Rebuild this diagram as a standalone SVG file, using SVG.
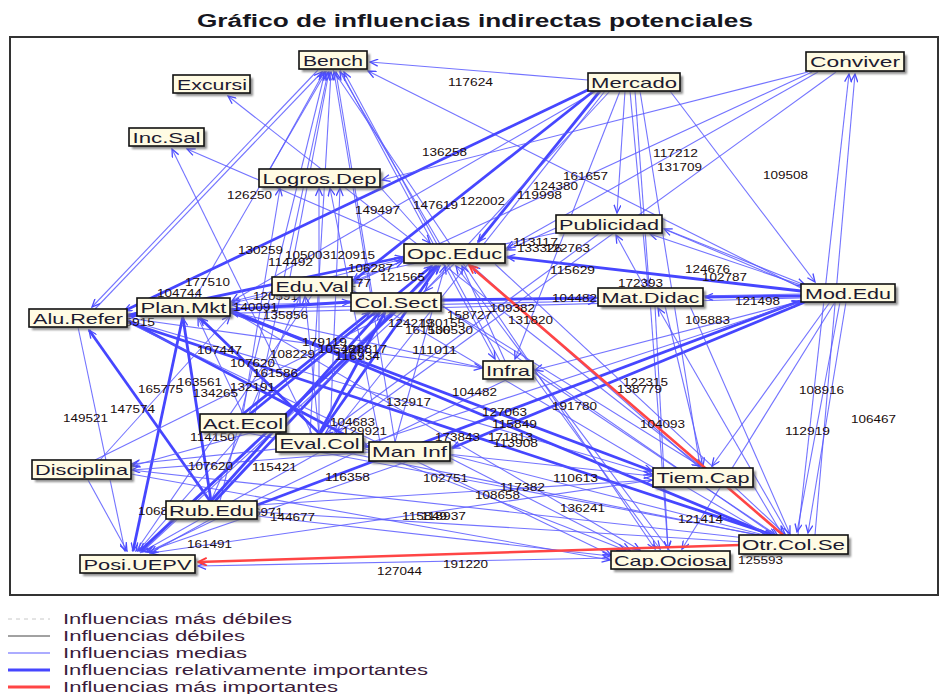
<svg xmlns="http://www.w3.org/2000/svg" width="944" height="694" viewBox="0 0 944 694">
<defs>
<style>
.m{stroke:#5a5aff;stroke-width:1.1;stroke-opacity:.85;marker-end:url(#ab)}
.t{stroke:#4646ff;stroke-width:2.8;marker-end:url(#ab)}
.r{stroke:#ff4545;stroke-width:2.6;marker-end:url(#ar)}
.lb{font-family:"Liberation Sans",Arial,sans-serif;font-size:11px;fill:#1a0c0c}
.box{fill:#fffbe3;stroke:#111;stroke-width:1.6}
.sh{fill:#6a6a6a;opacity:.75;filter:url(#bl)}
.nt{font-family:"Liberation Sans",Arial,sans-serif;font-size:15px;fill:#1c1a30}
.lg{font-family:"Liberation Sans",Arial,sans-serif;font-size:14px;fill:#3a1c3a}
</style>
<filter id="bl" x="-10%" y="-30%" width="120%" height="160%"><feGaussianBlur stdDeviation="1.2"/></filter>
<marker id="ab" viewBox="0 0 10 8" refX="9" refY="4" markerWidth="10" markerHeight="8" markerUnits="userSpaceOnUse" orient="auto"><path d="M1,0.5 L9,4 L1,7.5" fill="none" stroke="#4b4bff" stroke-width="1.3"/></marker>
<marker id="ar" viewBox="0 0 10 8" refX="9" refY="4" markerWidth="11" markerHeight="9" markerUnits="userSpaceOnUse" orient="auto"><path d="M1,0.5 L9,4 L1,7.5" fill="none" stroke="#ff3a3a" stroke-width="1.6"/></marker>
</defs>
<rect x="0" y="0" width="944" height="694" fill="#fff"/>
<text x="475" y="27" text-anchor="middle" textLength="556" lengthAdjust="spacingAndGlyphs" font-family="Liberation Sans,Arial,sans-serif" font-size="18" font-weight="bold" fill="#161620">Gráfico de influencias indirectas potenciales</text>
<rect x="10" y="37" width="928" height="558" fill="none" stroke="#333" stroke-width="2"/>

<g id="connectors">
<line class="m" x1="95" y1="309" x2="322" y2="72"/>
<line class="m" x1="195" y1="298" x2="326" y2="72"/>
<line class="m" x1="290" y1="277" x2="329" y2="72"/>
<line class="m" x1="372" y1="293" x2="336" y2="72"/>
<line class="m" x1="310" y1="434" x2="331" y2="72"/>
<line class="m" x1="255" y1="414" x2="328" y2="72"/>
<line class="m" x1="220" y1="501" x2="325" y2="72"/>
<line class="m" x1="440" y1="244" x2="340" y2="72"/>
<line class="m" x1="500" y1="361" x2="344" y2="72"/>
<line class="m" x1="801" y1="288" x2="368" y2="71"/>
<line class="m" x1="588" y1="80" x2="370" y2="62"/>
<line class="m" x1="395" y1="442" x2="334" y2="72"/>
<line class="m" x1="270" y1="169" x2="324" y2="72"/>
<line class="m" x1="318" y1="70" x2="92" y2="307"/>
<line class="m" x1="333" y1="70" x2="655" y2="549"/>
<line class="m" x1="340" y1="70" x2="495" y2="359"/>

<line class="t" x1="600" y1="91" x2="478" y2="242"/>
<line class="t" x1="592" y1="88" x2="124" y2="311"/>
<line class="m" x1="598" y1="90" x2="232" y2="301"/>
<line class="t" x1="595" y1="90" x2="353" y2="281"/>
<line class="m" x1="625" y1="91" x2="617" y2="213"/>
<line class="m" x1="630" y1="91" x2="648" y2="286"/>
<line class="m" x1="620" y1="91" x2="515" y2="359"/>
<line class="m" x1="640" y1="91" x2="700" y2="466"/>
<line class="m" x1="635" y1="91" x2="668" y2="549"/>
<line class="m" x1="610" y1="91" x2="425" y2="291"/>
<line class="m" x1="605" y1="91" x2="335" y2="432"/>
<line class="m" x1="670" y1="91" x2="815" y2="282"/>

<line class="m" x1="808" y1="72" x2="382" y2="180"/>
<line class="m" x1="812" y1="72" x2="354" y2="283"/>
<line class="m" x1="818" y1="72" x2="507" y2="248"/>
<line class="m" x1="836" y1="72" x2="335" y2="435"/>
<line class="m" x1="798" y1="535" x2="849" y2="74"/>
<line class="m" x1="815" y1="535" x2="855" y2="74"/>

<line class="t" x1="801" y1="296" x2="705" y2="297"/>
<line class="t" x1="801" y1="291" x2="507" y2="257"/>
<line class="m" x1="801" y1="287" x2="664" y2="229"/>
<line class="m" x1="801" y1="285" x2="650" y2="234"/>
<line class="m" x1="801" y1="294" x2="232" y2="305"/>
<line class="m" x1="801" y1="298" x2="129" y2="316"/>
<line class="t" x1="805" y1="302" x2="452" y2="448"/>
<line class="m" x1="805" y1="300" x2="535" y2="370"/>
<line class="m" x1="830" y1="302" x2="712" y2="466"/>
<line class="m" x1="835" y1="302" x2="682" y2="549"/>
<line class="m" x1="840" y1="302" x2="797" y2="532"/>
<line class="m" x1="846" y1="302" x2="808" y2="533"/>

<line class="t" x1="441" y1="300" x2="596" y2="298"/>
<line class="m" x1="230" y1="309" x2="596" y2="301"/>
<line class="m" x1="655" y1="306" x2="668" y2="549"/>
<line class="m" x1="790" y1="537" x2="658" y2="308"/>
<line class="m" x1="665" y1="306" x2="703" y2="466"/>
<line class="m" x1="645" y1="288" x2="616" y2="235"/>

<line class="m" x1="556" y1="228" x2="507" y2="250"/>
<line class="m" x1="560" y1="232" x2="232" y2="303"/>
<line class="m" x1="600" y1="233" x2="325" y2="434"/>

<line class="t" x1="320" y1="434" x2="438" y2="266"/>
<line class="t" x1="250" y1="414" x2="432" y2="266"/>
<line class="t" x1="215" y1="501" x2="436" y2="266"/>
<line class="m" x1="140" y1="553" x2="440" y2="266"/>
<line class="m" x1="395" y1="442" x2="445" y2="266"/>
<line class="m" x1="505" y1="361" x2="462" y2="266"/>
<line class="t" x1="128" y1="315" x2="403" y2="257"/>
<line class="m" x1="230" y1="302" x2="403" y2="259"/>
<line class="m" x1="352" y1="282" x2="403" y2="261"/>
<line class="m" x1="380" y1="187" x2="430" y2="243"/>
<line class="m" x1="700" y1="468" x2="472" y2="266"/>
<line class="m" x1="670" y1="551" x2="456" y2="266"/>

<line class="t" x1="210" y1="501" x2="89" y2="330"/>
<line class="t" x1="127" y1="322" x2="776" y2="536"/>
<line class="m" x1="127" y1="320" x2="652" y2="474"/>
<line class="m" x1="127" y1="318" x2="482" y2="368"/>
<line class="t" x1="127" y1="320" x2="368" y2="447"/>
<line class="m" x1="127" y1="322" x2="611" y2="555"/>
<line class="t" x1="127" y1="316" x2="350" y2="302"/>
<line class="m" x1="312" y1="434" x2="172" y2="149"/>
<line class="m" x1="430" y1="254" x2="187" y2="149"/>
<line class="m" x1="703" y1="468" x2="228" y2="96"/>

<line class="m" x1="88" y1="480" x2="127" y2="551"/>
<line class="t" x1="183" y1="316" x2="133" y2="551"/>
<line class="m" x1="243" y1="432" x2="138" y2="551"/>
<line class="m" x1="320" y1="452" x2="142" y2="552"/>
<line class="m" x1="409" y1="461" x2="146" y2="552"/>
<line class="t" x1="396" y1="311" x2="140" y2="551"/>
<line class="m" x1="312" y1="295" x2="136" y2="551"/>
<line class="m" x1="454" y1="264" x2="143" y2="551"/>
<line class="m" x1="508" y1="379" x2="148" y2="552"/>
<line class="m" x1="653" y1="480" x2="151" y2="553"/>
<line class="m" x1="611" y1="558" x2="198" y2="566"/>
<line class="m" x1="211" y1="519" x2="150" y2="553"/>
<line class="m" x1="78" y1="327" x2="125" y2="551"/>

<line class="m" x1="319" y1="452" x2="770" y2="537"/>
<line class="m" x1="450" y1="455" x2="772" y2="537"/>
<line class="m" x1="243" y1="432" x2="768" y2="537"/>
<line class="t" x1="230" y1="310" x2="773" y2="536"/>
<line class="m" x1="441" y1="305" x2="776" y2="536"/>
<line class="m" x1="533" y1="372" x2="778" y2="536"/>
<line class="m" x1="352" y1="290" x2="771" y2="537"/>
<line class="m" x1="131" y1="470" x2="764" y2="540"/>
<line class="m" x1="257" y1="512" x2="760" y2="543"/>
<line class="m" x1="753" y1="485" x2="782" y2="534"/>
<line class="m" x1="495" y1="264" x2="785" y2="534"/>
<line class="m" x1="690" y1="306" x2="790" y2="534"/>

<line class="t" x1="230" y1="312" x2="652" y2="471"/>
<line class="m" x1="363" y1="445" x2="652" y2="476"/>
<line class="m" x1="441" y1="305" x2="700" y2="466"/>
<line class="m" x1="257" y1="505" x2="652" y2="480"/>

<line class="m" x1="230" y1="310" x2="640" y2="550"/>
<line class="m" x1="363" y1="448" x2="625" y2="550"/>
<line class="m" x1="450" y1="458" x2="630" y2="550"/>
<line class="m" x1="257" y1="516" x2="610" y2="556"/>
<line class="m" x1="533" y1="375" x2="660" y2="549"/>
<line class="m" x1="131" y1="474" x2="610" y2="560"/>

<line class="m" x1="363" y1="440" x2="132" y2="464"/>
<line class="m" x1="286" y1="423" x2="132" y2="466"/>
<line class="m" x1="369" y1="452" x2="132" y2="470"/>
<line class="m" x1="95" y1="460" x2="396" y2="311"/>
<line class="m" x1="100" y1="460" x2="230" y2="316"/>

<line class="t" x1="211" y1="501" x2="183" y2="318"/>
<line class="m" x1="243" y1="414" x2="198" y2="318"/>
<line class="t" x1="320" y1="434" x2="200" y2="318"/>

<line class="m" x1="211" y1="501" x2="300" y2="296"/>
<line class="t" x1="243" y1="414" x2="370" y2="312"/>
<line class="t" x1="319" y1="434" x2="385" y2="312"/>
<line class="t" x1="211" y1="501" x2="380" y2="312"/>
<line class="m" x1="319" y1="434" x2="305" y2="296"/>
<line class="m" x1="319" y1="434" x2="319" y2="188"/>
<line class="m" x1="330" y1="434" x2="340" y2="188"/>
<line class="m" x1="243" y1="414" x2="280" y2="188"/>
<line class="m" x1="380" y1="442" x2="330" y2="188"/>
<line class="m" x1="483" y1="368" x2="231" y2="312"/>
<line class="t" x1="257" y1="505" x2="800" y2="301"/>
<line class="m" x1="363" y1="445" x2="800" y2="302"/>
<line class="m" x1="662" y1="228" x2="805" y2="285"/>

<line class="r" x1="783" y1="535" x2="469" y2="265"/>
<line class="r" x1="740" y1="545" x2="198" y2="562"/>
</g>

<g id="labels" class="lb">
<text x="448" y="86" textLength="45" lengthAdjust="spacingAndGlyphs">117624</text>
<text x="422" y="156" textLength="45" lengthAdjust="spacingAndGlyphs">136258</text>
<text x="227" y="199" textLength="45" lengthAdjust="spacingAndGlyphs">126250</text>
<text x="563" y="180" textLength="45" lengthAdjust="spacingAndGlyphs">161657</text>
<text x="533" y="190" textLength="45" lengthAdjust="spacingAndGlyphs">124380</text>
<text x="517" y="199" textLength="45" lengthAdjust="spacingAndGlyphs">119998</text>
<text x="460" y="205" textLength="45" lengthAdjust="spacingAndGlyphs">122002</text>
<text x="413" y="209" textLength="45" lengthAdjust="spacingAndGlyphs">147619</text>
<text x="355" y="214" textLength="45" lengthAdjust="spacingAndGlyphs">149497</text>
<text x="653" y="157" textLength="45" lengthAdjust="spacingAndGlyphs">117212</text>
<text x="657" y="171" textLength="45" lengthAdjust="spacingAndGlyphs">131709</text>
<text x="763" y="179" textLength="45" lengthAdjust="spacingAndGlyphs">109508</text>
<text x="238" y="254" textLength="45" lengthAdjust="spacingAndGlyphs">130259</text>
<text x="285" y="259" textLength="45" lengthAdjust="spacingAndGlyphs">105003</text>
<text x="330" y="259" textLength="45" lengthAdjust="spacingAndGlyphs">120915</text>
<text x="268" y="266" textLength="45" lengthAdjust="spacingAndGlyphs">114492</text>
<text x="348" y="272" textLength="45" lengthAdjust="spacingAndGlyphs">106287</text>
<text x="380" y="281" textLength="45" lengthAdjust="spacingAndGlyphs">121565</text>
<text x="326" y="287" textLength="45" lengthAdjust="spacingAndGlyphs">104177</text>
<text x="513" y="246" textLength="45" lengthAdjust="spacingAndGlyphs">113117</text>
<text x="517" y="252" textLength="45" lengthAdjust="spacingAndGlyphs">133326</text>
<text x="545" y="252" textLength="45" lengthAdjust="spacingAndGlyphs">122763</text>
<text x="550" y="274" textLength="45" lengthAdjust="spacingAndGlyphs">115629</text>
<text x="618" y="287" textLength="45" lengthAdjust="spacingAndGlyphs">172393</text>
<text x="685" y="273" textLength="45" lengthAdjust="spacingAndGlyphs">124676</text>
<text x="702" y="281" textLength="45" lengthAdjust="spacingAndGlyphs">102787</text>
<text x="735" y="305" textLength="45" lengthAdjust="spacingAndGlyphs">121498</text>
<text x="685" y="324" textLength="45" lengthAdjust="spacingAndGlyphs">105883</text>
<text x="552" y="302" textLength="45" lengthAdjust="spacingAndGlyphs">104482</text>
<text x="185" y="286" textLength="45" lengthAdjust="spacingAndGlyphs">177510</text>
<text x="157" y="297" textLength="45" lengthAdjust="spacingAndGlyphs">104744</text>
<text x="253" y="300" textLength="45" lengthAdjust="spacingAndGlyphs">120591</text>
<text x="233" y="311" textLength="45" lengthAdjust="spacingAndGlyphs">140091</text>
<text x="263" y="319" textLength="45" lengthAdjust="spacingAndGlyphs">135856</text>
<text x="110" y="326" textLength="45" lengthAdjust="spacingAndGlyphs">115915</text>
<text x="197" y="354" textLength="45" lengthAdjust="spacingAndGlyphs">107447</text>
<text x="270" y="358" textLength="45" lengthAdjust="spacingAndGlyphs">108229</text>
<text x="230" y="367" textLength="45" lengthAdjust="spacingAndGlyphs">107620</text>
<text x="253" y="377" textLength="45" lengthAdjust="spacingAndGlyphs">161586</text>
<text x="177" y="386" textLength="45" lengthAdjust="spacingAndGlyphs">163561</text>
<text x="138" y="393" textLength="45" lengthAdjust="spacingAndGlyphs">165775</text>
<text x="230" y="391" textLength="45" lengthAdjust="spacingAndGlyphs">132191</text>
<text x="193" y="397" textLength="45" lengthAdjust="spacingAndGlyphs">134265</text>
<text x="110" y="413" textLength="45" lengthAdjust="spacingAndGlyphs">147574</text>
<text x="63" y="422" textLength="45" lengthAdjust="spacingAndGlyphs">149521</text>
<text x="190" y="441" textLength="45" lengthAdjust="spacingAndGlyphs">114150</text>
<text x="188" y="470" textLength="45" lengthAdjust="spacingAndGlyphs">107620</text>
<text x="252" y="471" textLength="45" lengthAdjust="spacingAndGlyphs">115421</text>
<text x="138" y="515" textLength="45" lengthAdjust="spacingAndGlyphs">106844</text>
<text x="238" y="516" textLength="45" lengthAdjust="spacingAndGlyphs">126971</text>
<text x="270" y="521" textLength="45" lengthAdjust="spacingAndGlyphs">144677</text>
<text x="187" y="548" textLength="45" lengthAdjust="spacingAndGlyphs">161491</text>
<text x="325" y="481" textLength="45" lengthAdjust="spacingAndGlyphs">116358</text>
<text x="423" y="482" textLength="45" lengthAdjust="spacingAndGlyphs">102751</text>
<text x="500" y="491" textLength="45" lengthAdjust="spacingAndGlyphs">117382</text>
<text x="475" y="499" textLength="45" lengthAdjust="spacingAndGlyphs">108658</text>
<text x="553" y="482" textLength="45" lengthAdjust="spacingAndGlyphs">110613</text>
<text x="560" y="512" textLength="45" lengthAdjust="spacingAndGlyphs">136241</text>
<text x="402" y="520" textLength="45" lengthAdjust="spacingAndGlyphs">115849</text>
<text x="421" y="520" textLength="45" lengthAdjust="spacingAndGlyphs">118937</text>
<text x="377" y="575" textLength="45" lengthAdjust="spacingAndGlyphs">127044</text>
<text x="443" y="568" textLength="45" lengthAdjust="spacingAndGlyphs">191220</text>
<text x="386" y="406" textLength="45" lengthAdjust="spacingAndGlyphs">132917</text>
<text x="452" y="396" textLength="45" lengthAdjust="spacingAndGlyphs">104482</text>
<text x="482" y="416" textLength="45" lengthAdjust="spacingAndGlyphs">127063</text>
<text x="552" y="410" textLength="45" lengthAdjust="spacingAndGlyphs">191780</text>
<text x="492" y="428" textLength="45" lengthAdjust="spacingAndGlyphs">115849</text>
<text x="435" y="441" textLength="45" lengthAdjust="spacingAndGlyphs">173843</text>
<text x="488" y="441" textLength="45" lengthAdjust="spacingAndGlyphs">171813</text>
<text x="493" y="447" textLength="45" lengthAdjust="spacingAndGlyphs">113908</text>
<text x="330" y="426" textLength="45" lengthAdjust="spacingAndGlyphs">104683</text>
<text x="342" y="435" textLength="45" lengthAdjust="spacingAndGlyphs">129921</text>
<text x="412" y="354" textLength="45" lengthAdjust="spacingAndGlyphs">111011</text>
<text x="302" y="346" textLength="45" lengthAdjust="spacingAndGlyphs">179119</text>
<text x="318" y="353" textLength="45" lengthAdjust="spacingAndGlyphs">105481</text>
<text x="342" y="353" textLength="45" lengthAdjust="spacingAndGlyphs">128817</text>
<text x="335" y="360" textLength="45" lengthAdjust="spacingAndGlyphs">116934</text>
<text x="447" y="319" textLength="45" lengthAdjust="spacingAndGlyphs">158727</text>
<text x="388" y="327" textLength="45" lengthAdjust="spacingAndGlyphs">124219</text>
<text x="420" y="327" textLength="45" lengthAdjust="spacingAndGlyphs">130155</text>
<text x="405" y="334" textLength="45" lengthAdjust="spacingAndGlyphs">161536</text>
<text x="428" y="334" textLength="45" lengthAdjust="spacingAndGlyphs">100530</text>
<text x="490" y="312" textLength="45" lengthAdjust="spacingAndGlyphs">109382</text>
<text x="508" y="324" textLength="45" lengthAdjust="spacingAndGlyphs">131820</text>
<text x="623" y="386" textLength="45" lengthAdjust="spacingAndGlyphs">122315</text>
<text x="617" y="393" textLength="45" lengthAdjust="spacingAndGlyphs">138779</text>
<text x="640" y="428" textLength="45" lengthAdjust="spacingAndGlyphs">104093</text>
<text x="799" y="394" textLength="45" lengthAdjust="spacingAndGlyphs">108916</text>
<text x="851" y="423" textLength="45" lengthAdjust="spacingAndGlyphs">106467</text>
<text x="785" y="435" textLength="45" lengthAdjust="spacingAndGlyphs">112919</text>
<text x="678" y="523" textLength="45" lengthAdjust="spacingAndGlyphs">121414</text>
<text x="738" y="564" textLength="45" lengthAdjust="spacingAndGlyphs">125593</text>
</g>

<g id="n-bench"><rect class="sh" x="302" y="54" width="68" height="18"/><rect class="box" x="299" y="51" width="68" height="18"/><text class="nt" x="333" y="65.5" text-anchor="middle" textLength="60" lengthAdjust="spacingAndGlyphs">Bench</text></g>
<g id="n-excursi"><rect class="sh" x="176" y="78" width="77" height="18"/><rect class="box" x="173" y="75" width="77" height="18"/><text class="nt" x="212" y="89.5" text-anchor="middle" textLength="70" lengthAdjust="spacingAndGlyphs">Excursi</text></g>
<g id="n-incsal"><rect class="sh" x="132" y="131" width="75" height="18"/><rect class="box" x="129" y="128" width="75" height="18"/><text class="nt" x="166.5" y="142.5" text-anchor="middle" textLength="68" lengthAdjust="spacingAndGlyphs">Inc.Sal</text></g>
<g id="n-logros"><rect class="sh" x="262" y="172" width="121" height="18"/><rect class="box" x="259" y="169" width="121" height="18"/><text class="nt" x="319.5" y="183.5" text-anchor="middle" textLength="114" lengthAdjust="spacingAndGlyphs">Logros.Dep</text></g>
<g id="n-mercado"><rect class="sh" x="591" y="76" width="92" height="18"/><rect class="box" x="588" y="73" width="92" height="18"/><text class="nt" x="634" y="87.5" text-anchor="middle" textLength="86" lengthAdjust="spacingAndGlyphs">Mercado</text></g>
<g id="n-conviver"><rect class="sh" x="809" y="55" width="98" height="19"/><rect class="box" x="806" y="52" width="98" height="19"/><text class="nt" x="855" y="67" text-anchor="middle" textLength="90" lengthAdjust="spacingAndGlyphs">Conviver</text></g>
<g id="n-publicidad"><rect class="sh" x="559" y="218" width="106" height="18"/><rect class="box" x="556" y="215" width="106" height="18"/><text class="nt" x="609" y="229.5" text-anchor="middle" textLength="100" lengthAdjust="spacingAndGlyphs">Publicidad</text></g>
<g id="n-opceduc"><rect class="sh" x="407" y="247" width="101" height="19"/><rect class="box" x="404" y="244" width="101" height="19"/><text class="nt" x="454.5" y="259" text-anchor="middle" textLength="95" lengthAdjust="spacingAndGlyphs">Opc.Educ</text></g>
<g id="n-eduval"><rect class="sh" x="275" y="280" width="80" height="18"/><rect class="box" x="272" y="277" width="80" height="18"/><text class="nt" x="312" y="291.5" text-anchor="middle" textLength="73" lengthAdjust="spacingAndGlyphs">Edu.Val</text></g>
<g id="n-colsect"><rect class="sh" x="354" y="296" width="90" height="18"/><rect class="box" x="351" y="293" width="90" height="18"/><text class="nt" x="396" y="307.5" text-anchor="middle" textLength="83" lengthAdjust="spacingAndGlyphs">Col.Sect</text></g>
<g id="n-matdidac"><rect class="sh" x="601" y="291" width="105" height="18"/><rect class="box" x="598" y="288" width="105" height="18"/><text class="nt" x="650.5" y="302.5" text-anchor="middle" textLength="98" lengthAdjust="spacingAndGlyphs">Mat.Didac</text></g>
<g id="n-modedu"><rect class="sh" x="804" y="287" width="94" height="18"/><rect class="box" x="801" y="284" width="94" height="18"/><text class="nt" x="848" y="298.5" text-anchor="middle" textLength="86" lengthAdjust="spacingAndGlyphs">Mod.Edu</text></g>
<g id="n-alurefer"><rect class="sh" x="32" y="312" width="98" height="18"/><rect class="box" x="29" y="309" width="98" height="18"/><text class="nt" x="78" y="323.5" text-anchor="middle" textLength="90" lengthAdjust="spacingAndGlyphs">Alu.Refer</text></g>
<g id="n-planmkt"><rect class="sh" x="140" y="301" width="93" height="18"/><rect class="box" x="137" y="298" width="93" height="18"/><text class="nt" x="183.5" y="312.5" text-anchor="middle" textLength="86" lengthAdjust="spacingAndGlyphs">Plan.Mkt</text></g>
<g id="n-infra"><rect class="sh" x="486" y="364" width="50" height="18"/><rect class="box" x="483" y="361" width="50" height="18"/><text class="nt" x="508" y="375.5" text-anchor="middle" textLength="44" lengthAdjust="spacingAndGlyphs">Infra</text></g>
<g id="n-actecol"><rect class="sh" x="203" y="417" width="86" height="18"/><rect class="box" x="200" y="414" width="86" height="18"/><text class="nt" x="243" y="428.5" text-anchor="middle" textLength="80" lengthAdjust="spacingAndGlyphs">Act.Ecol</text></g>
<g id="n-evalcol"><rect class="sh" x="279" y="437" width="87" height="18"/><rect class="box" x="276" y="434" width="87" height="18"/><text class="nt" x="319.5" y="448.5" text-anchor="middle" textLength="80" lengthAdjust="spacingAndGlyphs">Eval.Col</text></g>
<g id="n-maninf"><rect class="sh" x="372" y="445" width="81" height="19"/><rect class="box" x="369" y="442" width="81" height="19"/><text class="nt" x="409.5" y="457" text-anchor="middle" textLength="75" lengthAdjust="spacingAndGlyphs">Man Inf</text></g>
<g id="n-disciplina"><rect class="sh" x="35" y="463" width="99" height="19"/><rect class="box" x="32" y="460" width="99" height="19"/><text class="nt" x="81.5" y="475" text-anchor="middle" textLength="93" lengthAdjust="spacingAndGlyphs">Disciplina</text></g>
<g id="n-tiemcap"><rect class="sh" x="656" y="471" width="100" height="19"/><rect class="box" x="653" y="468" width="100" height="19"/><text class="nt" x="703" y="483" text-anchor="middle" textLength="93" lengthAdjust="spacingAndGlyphs">Tiem.Cap</text></g>
<g id="n-rubedu"><rect class="sh" x="169" y="504" width="91" height="18"/><rect class="box" x="166" y="501" width="91" height="18"/><text class="nt" x="211.5" y="515.5" text-anchor="middle" textLength="85" lengthAdjust="spacingAndGlyphs">Rub.Edu</text></g>
<g id="n-otrcolse"><rect class="sh" x="742" y="538" width="109" height="19"/><rect class="box" x="739" y="535" width="109" height="19"/><text class="nt" x="793.5" y="550" text-anchor="middle" textLength="103" lengthAdjust="spacingAndGlyphs">Otr.Col.Se</text></g>
<g id="n-capociosa"><rect class="sh" x="614" y="554" width="119" height="18"/><rect class="box" x="611" y="551" width="119" height="18"/><text class="nt" x="670.5" y="565.5" text-anchor="middle" textLength="113" lengthAdjust="spacingAndGlyphs">Cap.Ociosa</text></g>
<g id="n-posiuepv"><rect class="sh" x="83" y="558" width="115" height="18"/><rect class="box" x="80" y="555" width="115" height="18"/><text class="nt" x="137.5" y="569.5" text-anchor="middle" textLength="108" lengthAdjust="spacingAndGlyphs">Posi.UEPV</text></g>

<g id="legend">
<line x1="8" y1="619" x2="50" y2="619" stroke="#c8c8c8" stroke-width="1" stroke-dasharray="4,4"/>
<line x1="8" y1="636" x2="50" y2="636" stroke="#444" stroke-width="1"/>
<line x1="8" y1="653" x2="50" y2="653" stroke="#5a5aff" stroke-width="1.2"/>
<line x1="8" y1="670" x2="50" y2="670" stroke="#4646ff" stroke-width="3"/>
<line x1="8" y1="687" x2="50" y2="687" stroke="#ff4545" stroke-width="3"/>
<text class="lg" x="63" y="624" textLength="229" lengthAdjust="spacingAndGlyphs">Influencias más débiles</text>
<text class="lg" x="63" y="641" textLength="182" lengthAdjust="spacingAndGlyphs">Influencias débiles</text>
<text class="lg" x="63" y="658" textLength="184" lengthAdjust="spacingAndGlyphs">Influencias medias</text>
<text class="lg" x="63" y="675" textLength="365" lengthAdjust="spacingAndGlyphs">Influencias relativamente importantes</text>
<text class="lg" x="63" y="692" textLength="275" lengthAdjust="spacingAndGlyphs">Influencias más importantes</text>
</g>
</svg>
